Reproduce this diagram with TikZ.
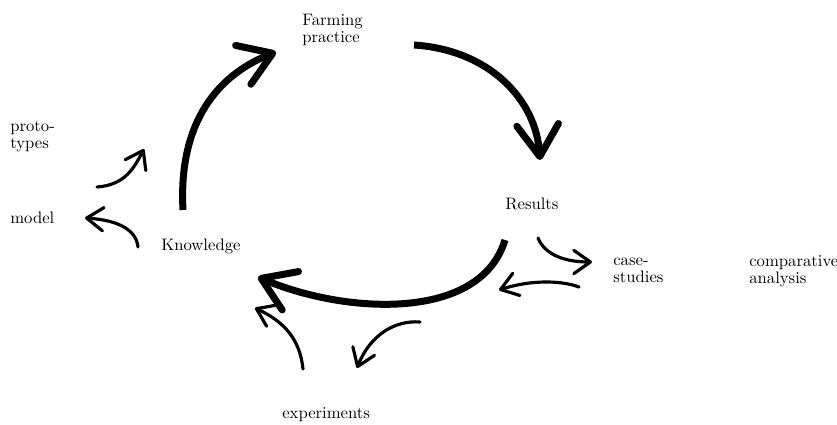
\documentclass[tikz,border=0pt]{standalone}
\usepackage{tikz}
\usetikzlibrary{arrows.meta}
\tikzset{
	every node/.append style={
		inner sep=0pt,
		font={\fontsize{10}{10.2}\selectfont},
	},
	txt/.append style={
		align = left,
		anchor = west,
	},
	cycle/.append style={
		line width=4.2pt,
		line cap=butt,
		-{Straight Barb[length=19pt, width=25pt, round]},
	},
	side/.append style={
		line width=1.9pt,
		line cap=round,
		-{Straight Barb[length=10pt, width=14pt, round]},
	},
}

\begin{document}
\begin{tikzpicture}[x=0.6pt, y=-0.6pt]
\useasboundingbox (0,0) rectangle (837,425);

\node(farm)[txt] at (302,30) {Farming\\practice};
\node(res)[txt] at (505,204) {Results};
\node(know)[txt] at (161,246) {Knowledge};

\node(proto)[txt] at (10,137) {proto-\\types};
\node(model)[txt] at (10,218) {model};
\node(case)[txt] at (613,270) {case-\\studies};
\node(comp)[txt] at (749,271) {comparative\\analysis};
\node(exp)[txt] at (282,415) {experiments};

% main cycle
\coordinate (know-up) at (183,210);
\coordinate (farm-in) at (276,52);
\coordinate (farm-out) at (414,45);
\coordinate (res-in) at (540,160);
\coordinate (res-out) at (505,240);
\coordinate (know-in) at (258,277);

\draw[cycle] (know-up) .. controls (178,120) and (220,74) .. (farm-in);
\draw[cycle] (farm-out) .. controls (490,50) and (536,100) .. (res-in);
\draw[cycle] (res-out) .. controls (480,322) and (345,314) .. (know-in);

% side loops
\coordinate (k1) at (138,247);
\coordinate (m1) at (85,218);
\coordinate (k2) at (97,187);
\coordinate (p1) at (144,149);
\draw[side] (k1) .. controls (136,228) and (115,220) .. (m1);
\draw[side] (k2) .. controls (125,185) and (134,168) .. (p1);

\coordinate (r1) at (538,238);
\coordinate (c1) at (592,262);
\coordinate (c2) at (579,287);
\coordinate (r2) at (499,290);
\draw[side] (r1) .. controls (545,255) and (565,262) .. (c1);
\draw[side] (c2) .. controls (560,280) and (530,280) .. (r2);

\coordinate (e1) at (303,369);
\coordinate (k3) at (255,308);
\coordinate (r3) at (420,322);
\coordinate (e2) at (357,368);
\draw[side] (e1) .. controls (300,340) and (285,322) .. (k3);
\draw[side] (r3) .. controls (395,320) and (370,335) .. (e2);

\end{tikzpicture}
\end{document}
